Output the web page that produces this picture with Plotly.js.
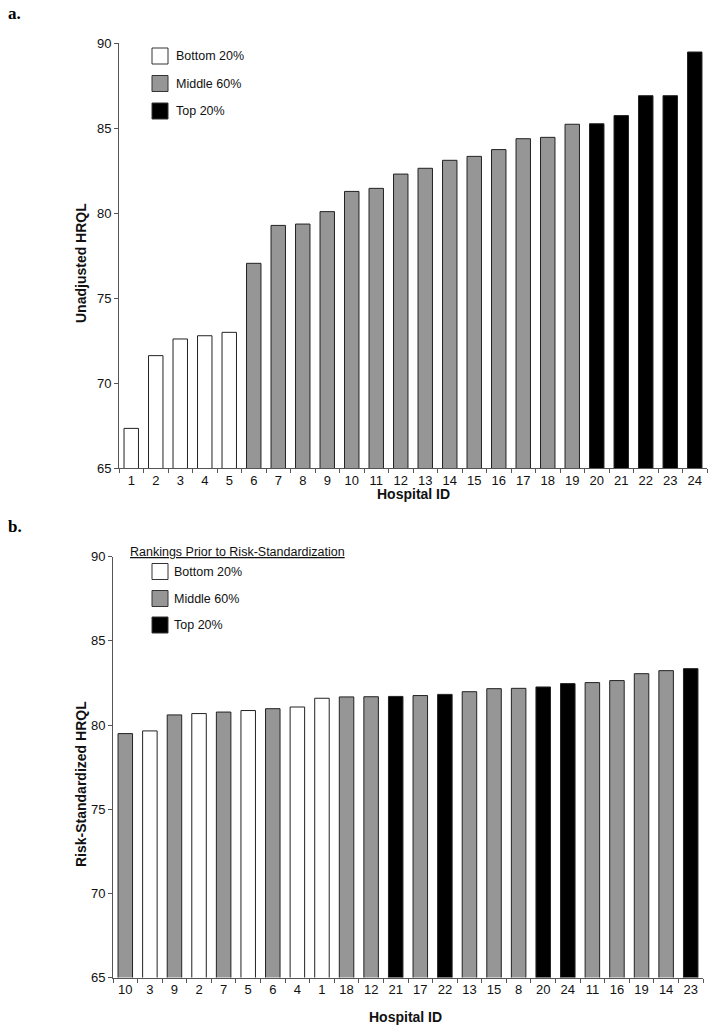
<!DOCTYPE html>
<html>
<head>
<meta charset="utf-8">
<script src="https://cdn.plot.ly/plotly-3.0.1.min.js"></script>
<style>html,body{margin:0;padding:0;background:#fff;}#chart{width:714px;height:1032px;}</style>
</head>
<body>
<div id="chart"></div>
<script>
// ---- Data ----
const topIds = ['1','2','3','4','5','6','7','8','9','10','11','12','13','14','15','16','17','18','19','20','21','22','23','24'];
const topValues = [67.33, 71.61, 72.59, 72.78, 72.98, 77.04, 79.27, 79.35, 80.08, 81.27, 81.45, 82.29, 82.63, 83.10, 83.33, 83.73, 84.37, 84.45, 85.22, 85.25, 85.73, 86.90, 86.90, 89.47];
const topGroups = ['Bottom','Bottom','Bottom','Bottom','Bottom','Middle','Middle','Middle','Middle','Middle','Middle','Middle','Middle','Middle','Middle','Middle','Middle','Middle','Middle','Top','Top','Top','Top','Top'];

const bottomIds = ['10','3','9','2','7','5','6','4','1','18','12','21','17','22','13','15','8','20','24','11','16','19','14','23'];
const bottomValues = [79.49, 79.65, 80.60, 80.68, 80.77, 80.86, 80.97, 81.07, 81.59, 81.67, 81.68, 81.70, 81.75, 81.82, 81.98, 82.16, 82.18, 82.26, 82.46, 82.52, 82.64, 83.05, 83.23, 83.35];

const legendLabels = ['Bottom 20%', 'Middle 60%', 'Top 20%'];
const groupNames = ['Bottom', 'Middle', 'Top'];
const groupColors = {Bottom: '#ffffff', Middle: '#969696', Top: '#000000'};
const yTicks = [65, 70, 75, 80, 85, 90];

// ---- Build ----
const groupById = {};
topIds.forEach((id, i) => { groupById[id] = topGroups[i]; });
const topColors = topGroups.map(g => groupColors[g]);
const bottomColors = bottomIds.map(id => groupColors[groupById[id]]);

const FONT = 'Arial, "Liberation Sans", sans-serif';
const W = 714, H = 1032;
const px = x => x / W;
const py = y => 1 - y / H;

const traces = [
  {type: 'bar', x: topIds, y: topValues, xaxis: 'x', yaxis: 'y',
   marker: {color: topColors, line: {color: '#222', width: 1}}, showlegend: false, hoverinfo: 'x+y'},
  {type: 'bar', x: bottomIds, y: bottomValues, xaxis: 'x2', yaxis: 'y2',
   marker: {color: bottomColors, line: {color: '#222', width: 1}}, showlegend: false, hoverinfo: 'x+y'}
];

const axisCommon = {
  showgrid: false, zeroline: false, showline: true, linecolor: '#555', linewidth: 1,
  ticks: 'outside', ticklen: 4, tickcolor: '#555', tickwidth: 1,
  tickfont: {family: FONT, size: 13, color: '#111'}
};

const xTop = Object.assign({}, axisCommon, {domain: [px(119), px(707)], anchor: 'y', type: 'category', tickson: 'boundaries', fixedrange: true});
const yTop = Object.assign({}, axisCommon, {domain: [py(468), py(43)], anchor: 'x', range: [65, 90], tickvals: yTicks, fixedrange: true});
const xBot = Object.assign({}, axisCommon, {domain: [px(113), px(703)], anchor: 'y2', type: 'category', tickson: 'boundaries', fixedrange: true});
const yBot = Object.assign({}, axisCommon, {domain: [py(977.5), py(556.7)], anchor: 'x2', range: [65, 90], tickvals: yTicks, fixedrange: true});

const annotations = [];
const shapes = [];
function ann(text, x, y, opts) {
  annotations.push(Object.assign({
    text: text, x: px(x), y: py(y), xref: 'paper', yref: 'paper', showarrow: false,
    xanchor: 'left', yanchor: 'middle', font: {family: FONT, size: 12.5, color: '#111'}
  }, opts || {}));
}
// panel letters
ann('<b>a.</b>', 6, 13, {font: {family: '"Liberation Serif", "Times New Roman", serif', size: 17, color: '#000'}});
ann('<b>b.</b>', 6, 526, {font: {family: '"Liberation Serif", "Times New Roman", serif', size: 17, color: '#000'}});
// axis titles
ann('<b>Unadjusted HRQL</b>', 81, 263, {xanchor: 'center', textangle: -90, font: {family: FONT, size: 14, color: '#111'}});
ann('<b>Risk-Standardized HRQL</b>', 81, 784, {xanchor: 'center', textangle: -90, font: {family: FONT, size: 14, color: '#111'}});
ann('<b>Hospital ID</b>', 413, 494, {xanchor: 'center', font: {family: FONT, size: 14, color: '#111'}});
ann('<b>Hospital ID</b>', 405, 1017, {xanchor: 'center', font: {family: FONT, size: 14, color: '#111'}});

// legends
function legend(boxX, textX, yCenters) {
  groupNames.forEach((g, i) => {
    const yc = yCenters[i];
    shapes.push({type: 'rect', xref: 'paper', yref: 'paper', x0: px(boxX), x1: px(boxX + 16), y0: py(yc + 8), y1: py(yc - 8),
      fillcolor: groupColors[g], line: {color: '#333', width: 1}});
    ann(legendLabels[i], textX, yc);
  });
}
legend(152, 174, [56, 83.5, 111]);
ann('<u>Rankings Prior to Risk-Standardization</u>', 128, 552);
legend(152, 172, [571.5, 598.5, 625]);

const layout = {
  width: W, height: H, margin: {l: 0, r: 0, t: 0, b: 0},
  paper_bgcolor: '#fff', plot_bgcolor: '#fff',
  bargap: 0.41, showlegend: false,
  xaxis: xTop, yaxis: yTop, xaxis2: xBot, yaxis2: yBot,
  annotations: annotations, shapes: shapes,
  font: {family: FONT}
};

Plotly.newPlot('chart', traces, layout, {displayModeBar: false, staticPlot: true});
</script>
</body>
</html>
